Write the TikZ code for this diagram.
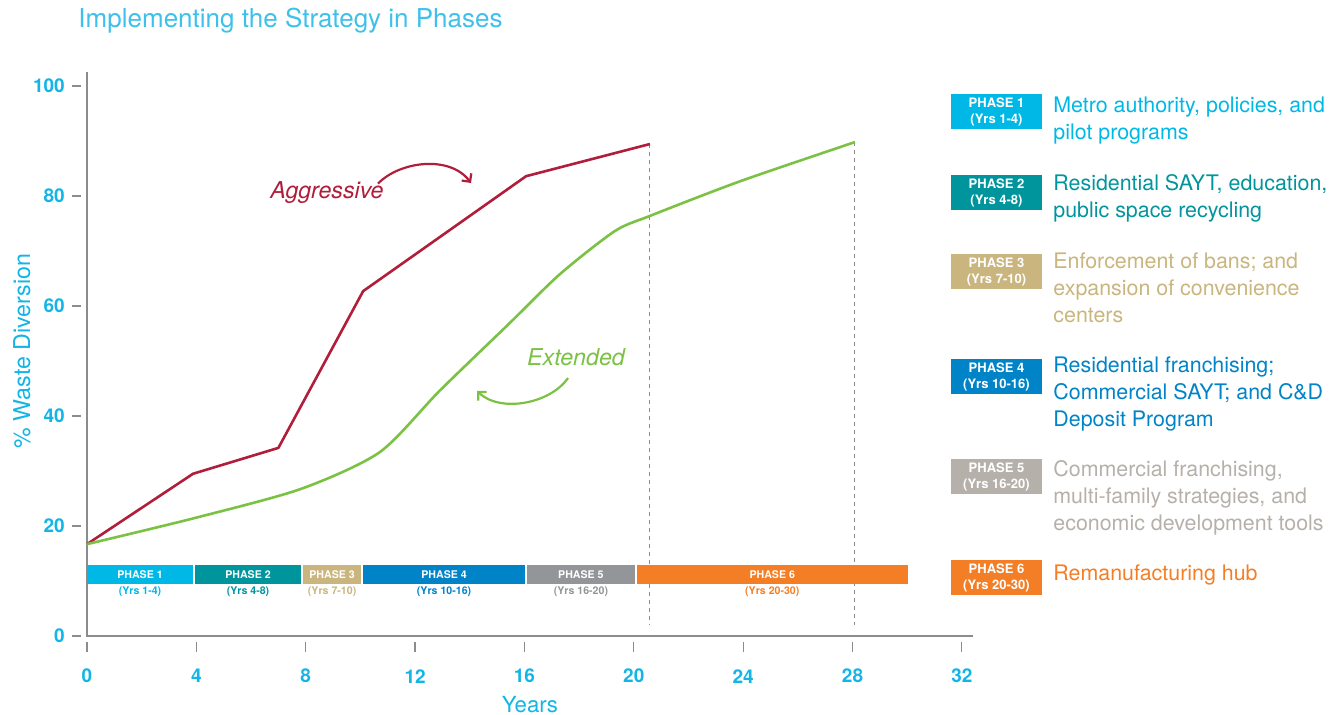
\documentclass[tikz,border=0pt]{standalone}
\usepackage{fontspec}
\setmainfont{TeX Gyre Heros}
\usepackage{tikz}
\usetikzlibrary{arrows.meta,positioning}

\definecolor{titlec}{HTML}{3DC1EA}
\definecolor{axcyan}{HTML}{12B5E6}
\definecolor{axgray}{HTML}{8C8C8C}
\definecolor{crim}{HTML}{B01E3B}
\definecolor{grn}{HTML}{7BC143}
\definecolor{ph1}{HTML}{00B8E6}
\definecolor{ph2}{HTML}{00959C}
\definecolor{ph3}{HTML}{C9B57D}
\definecolor{ph4}{HTML}{0083C7}
\definecolor{ph5}{HTML}{939598}
\definecolor{ph5l}{HTML}{B5B0AA}
\definecolor{ph6}{HTML}{F47E25}

\tikzstyle{legbox} = [rectangle, minimum width=45.5pt, minimum height=17.5pt, inner sep=0pt, text=white, align=center, font=\bfseries\fontsize{6.5}{8}\selectfont]
\tikzstyle{legtext} = [anchor=north west, inner sep=0pt, align=left, font=\fontsize{10.7}{13.5}\selectfont]
\tikzstyle{barlbl} = [inner sep=0pt, text=white, font=\bfseries\fontsize{5.3}{6}\selectfont]
\tikzstyle{yrslbl} = [inner sep=0pt, font=\bfseries\fontsize{5.3}{6}\selectfont]
\tikzstyle{ticklbl} = [inner sep=0pt, text=axcyan, font=\bfseries\fontsize{9.5}{11}\selectfont]
\tikzstyle{curve} = [line width=1.3pt, line join=round]
\tikzstyle{pointer} = [line width=1.1pt, -{Straight Barb[length=3pt,width=6pt]}]

\begin{document}
\begin{tikzpicture}[x=0.5pt, y=-0.5pt]
	\useasboundingbox (0,0) rectangle (1343,715);

	\node[anchor=west, inner sep=0pt, text=titlec, font=\fontsize{13}{15}\selectfont] (TITLE) at (78,21) {Implementing the Strategy in Phases};
	\node[rotate=90, inner sep=0pt, text=axcyan, font=\fontsize{11.6}{13}\selectfont] (YLABEL) at (22,351) {\% Waste Diversion};

	% plot area: years across, percent up
	\begin{scope}[shift={(87,636)}, x=13.67pt, y=2.75pt]
		\draw[axgray, line width=0.6pt] (0,102.5) -- (0,0) -- (32.4,0);
		\foreach \y in {0,20,...,100}
		{
			\draw[axgray, line width=0.6pt] (-0.55,\y) -- (-0.22,\y);
			\node[ticklbl, anchor=east] (Y\y) at (-0.8,\y) {\y};
		}
		\foreach \x in {0,4,...,32}
		{
			\draw[axgray, line width=0.6pt] (\x,-1.1) -- (\x,-2.9);
			\node[ticklbl] (X\x) at (\x,-7.3) {\x};
		}
		\node[inner sep=0pt, text=axcyan, font=\fontsize{11.1}{13}\selectfont] (XLABEL) at (16.2,-12.4) {Years};

		\draw[axgray, line width=0.5pt, dash pattern=on 2pt off 2pt] (20.59,89.4) -- (20.59,2);
		\draw[axgray, line width=0.5pt, dash pattern=on 2pt off 2pt] (28.09,89.8) -- (28.09,2);

		% phase bar
		\foreach \a/\b/\c/\n/\yr in {0/3.88/ph1/1/1-4, 3.95/7.83/ph2/2/4-8, 7.9/10.03/ph3/3/7-10, 10.1/16.02/ph4/4/10-16, 16.09/20.04/ph5/5/16-20, 20.1/30.03/ph6/6/20-30}
		{
			\fill[\c] (\a,9.45) rectangle (\b,12.9);
			\node[barlbl] (BAR\n) at ({(\a+\b)/2},11.2) {PHASE \n};
			\node[yrslbl, text=\c] (YRS\n) at ({(\a+\b)/2},8.0) {(Yrs \yr)};
		}

		\draw[curve, crim] plot coordinates {(0,16.7) (3.88,29.5) (7.0,34.2) (10.1,62.7) (16.06,83.6) (20.59,89.45)};
		\draw[curve, grn] plot[smooth, tension=0.45] coordinates {(0,16.7) (3.9,21.4) (7.8,26.7) (10.7,33.4) (12.9,44.6) (15.4,56.6) (17.3,65.8) (19.3,73.6) (20.6,76.4) (23.9,82.7) (28.09,89.8)};
	\end{scope}

	\node[inner sep=0pt, text=crim, font=\itshape\fontsize{11.6}{13}\selectfont] (AGGR) at (327,193) {Aggressive};
	\coordinate (AGGR_TIP) at (471,183);
	\draw[pointer, crim] ([xshift=-3pt, yshift=-1pt]AGGR.north east) .. controls (400,161) and (450,155) .. (AGGR_TIP);

	\node[inner sep=0pt, text=grn, font=\itshape\fontsize{11.6}{13}\selectfont] (EXT) at (576,357) {Extended};
	\coordinate (EXT_TIP) at (477,391);
	\draw[pointer, grn] ([xshift=-4pt, yshift=-6pt]EXT.south) .. controls (550,404) and (500,413) .. (EXT_TIP);

	% legend
	\node[legbox, fill=ph1] (LEG1) at (996.5,111.5) {PHASE 1\\(Yrs 1-4)};
	\node[legbox, fill=ph2] (LEG2) at (996.5,192.5) {PHASE 2\\(Yrs 4-8)};
	\node[legbox, fill=ph3] (LEG3) at (996.5,271.5) {PHASE 3\\(Yrs 7-10)};
	\node[legbox, fill=ph4] (LEG4) at (996.5,376.5) {PHASE 4\\(Yrs 10-16)};
	\node[legbox, fill=ph5l] (LEG5) at (996.5,476.5) {PHASE 5\\(Yrs 16-20)};
	\node[legbox, fill=ph6] (LEG6) at (996.5,577.5) {PHASE 6\\(Yrs 20-30)};

	\node[legtext, text=ph1] (TXT1) at (1053,96.3) {Metro authority, policies, and\\pilot programs};
	\node[legtext, text=ph2] (TXT2) at (1053,174.3) {Residential SAYT, education,\\public space recycling};
	\node[legtext, text=ph3] (TXT3) at (1053,252.3) {Enforcement of bans; and\\expansion of convenience\\centers};
	\node[legtext, text=ph4] (TXT4) at (1053,356.3) {Residential franchising;\\Commercial SAYT; and C\&D\\Deposit Program};
	\node[legtext, text=ph5l] (TXT5) at (1053,460.3) {Commercial franchising,\\multi-family strategies, and\\economic development tools};
	\node[legtext, text=ph6] (TXT6) at (1053,564.3) {Remanufacturing hub};
\end{tikzpicture}
\end{document}
